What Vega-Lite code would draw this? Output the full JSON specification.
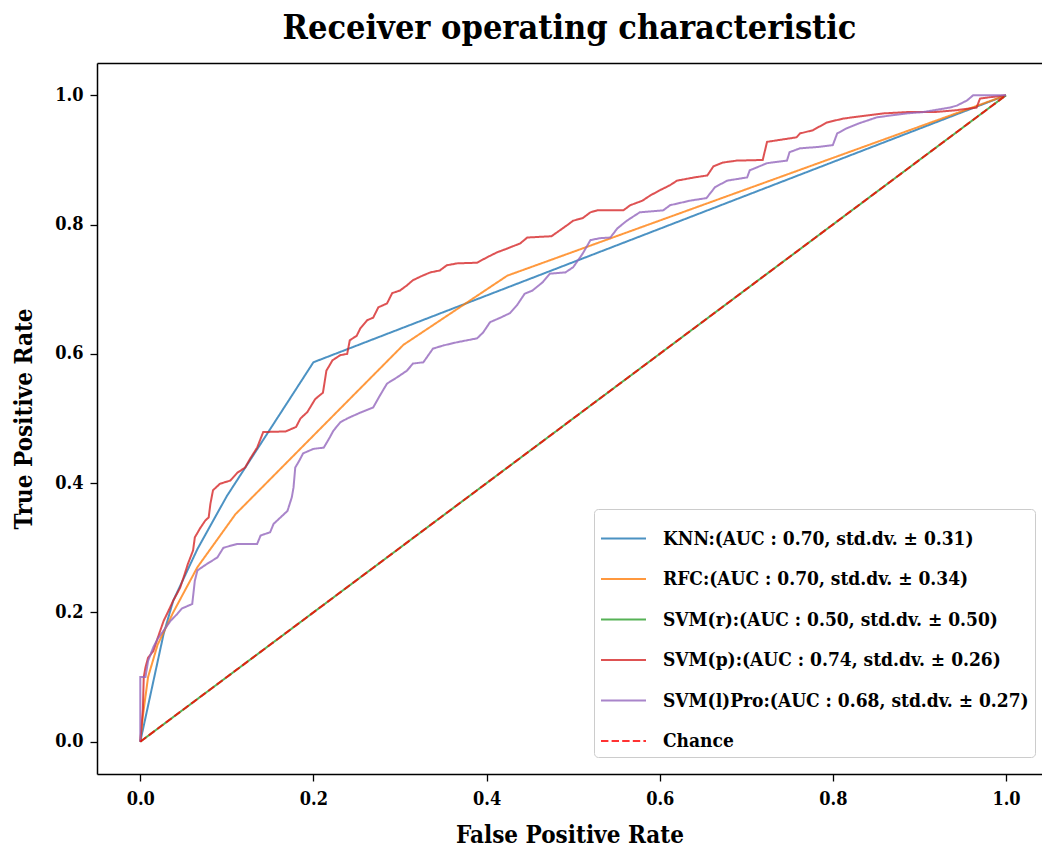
{
  "$schema": "https://vega.github.io/schema/vega-lite/v6.json",
  "width": 945,
  "height": 711,
  "autosize": {"type": "none"},
  "padding": {"left": 97, "top": 63, "right": 0, "bottom": 78},
  "background": "white",
  "config": {
    "view": {"stroke": null},
    "font": "DejaVu Serif Condensed"
  },
  "title": {
    "text": "Receiver operating characteristic",
    "font": "DejaVu Serif Condensed",
    "fontSize": 34,
    "fontWeight": "bold",
    "color": "black",
    "anchor": "middle",
    "offset": 17
  },
  "data": {
    "values": [
      {"model": "KNN", "step": 0, "fpr": 0, "tpr": 0},
      {"model": "KNN", "step": 1, "fpr": 0.027, "tpr": 0.167},
      {"model": "KNN", "step": 2, "fpr": 0.038, "tpr": 0.218},
      {"model": "KNN", "step": 3, "fpr": 0.066, "tpr": 0.298},
      {"model": "KNN", "step": 4, "fpr": 0.1, "tpr": 0.38},
      {"model": "KNN", "step": 5, "fpr": 0.2, "tpr": 0.587},
      {"model": "KNN", "step": 6, "fpr": 1, "tpr": 1},

      {"model": "RFC", "step": 0, "fpr": 0, "tpr": 0},
      {"model": "RFC", "step": 1, "fpr": 0.003, "tpr": 0.04},
      {"model": "RFC", "step": 2, "fpr": 0.009, "tpr": 0.1},
      {"model": "RFC", "step": 3, "fpr": 0.02, "tpr": 0.15},
      {"model": "RFC", "step": 4, "fpr": 0.038, "tpr": 0.2},
      {"model": "RFC", "step": 5, "fpr": 0.066, "tpr": 0.27},
      {"model": "RFC", "step": 6, "fpr": 0.11, "tpr": 0.352},
      {"model": "RFC", "step": 7, "fpr": 0.304, "tpr": 0.614},
      {"model": "RFC", "step": 8, "fpr": 0.424, "tpr": 0.721},
      {"model": "RFC", "step": 9, "fpr": 1, "tpr": 1},

      {"model": "SVM(r)", "step": 0, "fpr": 0, "tpr": 0},
      {"model": "SVM(r)", "step": 1, "fpr": 1, "tpr": 1},

      {"model": "SVM(p)", "step": 0, "fpr": 0, "tpr": 0},
      {"model": "SVM(p)", "step": 1, "fpr": 0.003, "tpr": 0.05},
      {"model": "SVM(p)", "step": 2, "fpr": 0.004, "tpr": 0.1},
      {"model": "SVM(p)", "step": 3, "fpr": 0.006, "tpr": 0.115},
      {"model": "SVM(p)", "step": 4, "fpr": 0.009, "tpr": 0.13},
      {"model": "SVM(p)", "step": 5, "fpr": 0.015, "tpr": 0.14},
      {"model": "SVM(p)", "step": 6, "fpr": 0.02, "tpr": 0.16},
      {"model": "SVM(p)", "step": 7, "fpr": 0.027, "tpr": 0.187},
      {"model": "SVM(p)", "step": 8, "fpr": 0.031, "tpr": 0.198},
      {"model": "SVM(p)", "step": 9, "fpr": 0.038, "tpr": 0.218},
      {"model": "SVM(p)", "step": 10, "fpr": 0.046, "tpr": 0.238},
      {"model": "SVM(p)", "step": 11, "fpr": 0.05, "tpr": 0.254},
      {"model": "SVM(p)", "step": 12, "fpr": 0.055, "tpr": 0.275},
      {"model": "SVM(p)", "step": 13, "fpr": 0.061, "tpr": 0.296},
      {"model": "SVM(p)", "step": 14, "fpr": 0.063, "tpr": 0.316},
      {"model": "SVM(p)", "step": 15, "fpr": 0.069, "tpr": 0.33},
      {"model": "SVM(p)", "step": 16, "fpr": 0.075, "tpr": 0.342},
      {"model": "SVM(p)", "step": 17, "fpr": 0.079, "tpr": 0.347},
      {"model": "SVM(p)", "step": 18, "fpr": 0.081, "tpr": 0.368},
      {"model": "SVM(p)", "step": 19, "fpr": 0.084, "tpr": 0.389},
      {"model": "SVM(p)", "step": 20, "fpr": 0.092, "tpr": 0.399},
      {"model": "SVM(p)", "step": 21, "fpr": 0.104, "tpr": 0.404},
      {"model": "SVM(p)", "step": 22, "fpr": 0.112, "tpr": 0.416},
      {"model": "SVM(p)", "step": 23, "fpr": 0.121, "tpr": 0.424},
      {"model": "SVM(p)", "step": 24, "fpr": 0.127, "tpr": 0.438},
      {"model": "SVM(p)", "step": 25, "fpr": 0.135, "tpr": 0.455},
      {"model": "SVM(p)", "step": 26, "fpr": 0.142, "tpr": 0.479},
      {"model": "SVM(p)", "step": 27, "fpr": 0.168, "tpr": 0.48},
      {"model": "SVM(p)", "step": 28, "fpr": 0.18, "tpr": 0.487},
      {"model": "SVM(p)", "step": 29, "fpr": 0.185, "tpr": 0.5},
      {"model": "SVM(p)", "step": 30, "fpr": 0.193, "tpr": 0.51},
      {"model": "SVM(p)", "step": 31, "fpr": 0.202, "tpr": 0.53},
      {"model": "SVM(p)", "step": 32, "fpr": 0.211, "tpr": 0.54},
      {"model": "SVM(p)", "step": 33, "fpr": 0.215, "tpr": 0.574},
      {"model": "SVM(p)", "step": 34, "fpr": 0.222, "tpr": 0.59},
      {"model": "SVM(p)", "step": 35, "fpr": 0.231, "tpr": 0.598},
      {"model": "SVM(p)", "step": 36, "fpr": 0.239, "tpr": 0.6},
      {"model": "SVM(p)", "step": 37, "fpr": 0.242, "tpr": 0.621},
      {"model": "SVM(p)", "step": 38, "fpr": 0.25, "tpr": 0.628},
      {"model": "SVM(p)", "step": 39, "fpr": 0.254, "tpr": 0.639},
      {"model": "SVM(p)", "step": 40, "fpr": 0.262, "tpr": 0.652},
      {"model": "SVM(p)", "step": 41, "fpr": 0.269, "tpr": 0.656},
      {"model": "SVM(p)", "step": 42, "fpr": 0.275, "tpr": 0.672},
      {"model": "SVM(p)", "step": 43, "fpr": 0.285, "tpr": 0.678},
      {"model": "SVM(p)", "step": 44, "fpr": 0.291, "tpr": 0.694},
      {"model": "SVM(p)", "step": 45, "fpr": 0.3, "tpr": 0.698},
      {"model": "SVM(p)", "step": 46, "fpr": 0.308, "tpr": 0.706},
      {"model": "SVM(p)", "step": 47, "fpr": 0.315, "tpr": 0.714},
      {"model": "SVM(p)", "step": 48, "fpr": 0.326, "tpr": 0.721},
      {"model": "SVM(p)", "step": 49, "fpr": 0.335, "tpr": 0.726},
      {"model": "SVM(p)", "step": 50, "fpr": 0.346, "tpr": 0.729},
      {"model": "SVM(p)", "step": 51, "fpr": 0.354, "tpr": 0.737},
      {"model": "SVM(p)", "step": 52, "fpr": 0.366, "tpr": 0.74},
      {"model": "SVM(p)", "step": 53, "fpr": 0.389, "tpr": 0.741},
      {"model": "SVM(p)", "step": 54, "fpr": 0.4, "tpr": 0.749},
      {"model": "SVM(p)", "step": 55, "fpr": 0.412, "tpr": 0.757},
      {"model": "SVM(p)", "step": 56, "fpr": 0.424, "tpr": 0.763},
      {"model": "SVM(p)", "step": 57, "fpr": 0.439, "tpr": 0.771},
      {"model": "SVM(p)", "step": 58, "fpr": 0.447, "tpr": 0.78},
      {"model": "SVM(p)", "step": 59, "fpr": 0.475, "tpr": 0.782},
      {"model": "SVM(p)", "step": 60, "fpr": 0.493, "tpr": 0.799},
      {"model": "SVM(p)", "step": 61, "fpr": 0.5, "tpr": 0.806},
      {"model": "SVM(p)", "step": 62, "fpr": 0.511, "tpr": 0.81},
      {"model": "SVM(p)", "step": 63, "fpr": 0.52, "tpr": 0.819},
      {"model": "SVM(p)", "step": 64, "fpr": 0.528, "tpr": 0.822},
      {"model": "SVM(p)", "step": 65, "fpr": 0.558, "tpr": 0.822},
      {"model": "SVM(p)", "step": 66, "fpr": 0.566, "tpr": 0.83},
      {"model": "SVM(p)", "step": 67, "fpr": 0.58, "tpr": 0.837},
      {"model": "SVM(p)", "step": 68, "fpr": 0.589, "tpr": 0.845},
      {"model": "SVM(p)", "step": 69, "fpr": 0.6, "tpr": 0.853},
      {"model": "SVM(p)", "step": 70, "fpr": 0.612, "tpr": 0.861},
      {"model": "SVM(p)", "step": 71, "fpr": 0.62, "tpr": 0.868},
      {"model": "SVM(p)", "step": 72, "fpr": 0.64, "tpr": 0.873},
      {"model": "SVM(p)", "step": 73, "fpr": 0.655, "tpr": 0.876},
      {"model": "SVM(p)", "step": 74, "fpr": 0.662, "tpr": 0.89},
      {"model": "SVM(p)", "step": 75, "fpr": 0.673, "tpr": 0.896},
      {"model": "SVM(p)", "step": 76, "fpr": 0.689, "tpr": 0.899},
      {"model": "SVM(p)", "step": 77, "fpr": 0.719, "tpr": 0.9},
      {"model": "SVM(p)", "step": 78, "fpr": 0.724, "tpr": 0.928},
      {"model": "SVM(p)", "step": 79, "fpr": 0.758, "tpr": 0.935},
      {"model": "SVM(p)", "step": 80, "fpr": 0.762, "tpr": 0.941},
      {"model": "SVM(p)", "step": 81, "fpr": 0.777, "tpr": 0.946},
      {"model": "SVM(p)", "step": 82, "fpr": 0.793, "tpr": 0.958},
      {"model": "SVM(p)", "step": 83, "fpr": 0.812, "tpr": 0.964},
      {"model": "SVM(p)", "step": 84, "fpr": 0.823, "tpr": 0.966},
      {"model": "SVM(p)", "step": 85, "fpr": 0.858, "tpr": 0.972},
      {"model": "SVM(p)", "step": 86, "fpr": 0.885, "tpr": 0.974},
      {"model": "SVM(p)", "step": 87, "fpr": 0.916, "tpr": 0.974},
      {"model": "SVM(p)", "step": 88, "fpr": 0.943, "tpr": 0.977},
      {"model": "SVM(p)", "step": 89, "fpr": 0.966, "tpr": 0.981},
      {"model": "SVM(p)", "step": 90, "fpr": 0.97, "tpr": 0.995},
      {"model": "SVM(p)", "step": 91, "fpr": 0.981, "tpr": 0.997},
      {"model": "SVM(p)", "step": 92, "fpr": 1, "tpr": 1},

      {"model": "SVM(l)Pro", "step": 0, "fpr": 0, "tpr": 0},
      {"model": "SVM(l)Pro", "step": 1, "fpr": 0, "tpr": 0.1},
      {"model": "SVM(l)Pro", "step": 2, "fpr": 0.006, "tpr": 0.1},
      {"model": "SVM(l)Pro", "step": 3, "fpr": 0.009, "tpr": 0.125},
      {"model": "SVM(l)Pro", "step": 4, "fpr": 0.015, "tpr": 0.146},
      {"model": "SVM(l)Pro", "step": 5, "fpr": 0.02, "tpr": 0.159},
      {"model": "SVM(l)Pro", "step": 6, "fpr": 0.027, "tpr": 0.172},
      {"model": "SVM(l)Pro", "step": 7, "fpr": 0.035, "tpr": 0.187},
      {"model": "SVM(l)Pro", "step": 8, "fpr": 0.043, "tpr": 0.198},
      {"model": "SVM(l)Pro", "step": 9, "fpr": 0.048, "tpr": 0.206},
      {"model": "SVM(l)Pro", "step": 10, "fpr": 0.06, "tpr": 0.213},
      {"model": "SVM(l)Pro", "step": 11, "fpr": 0.063, "tpr": 0.249},
      {"model": "SVM(l)Pro", "step": 12, "fpr": 0.066, "tpr": 0.265},
      {"model": "SVM(l)Pro", "step": 13, "fpr": 0.077, "tpr": 0.275},
      {"model": "SVM(l)Pro", "step": 14, "fpr": 0.089, "tpr": 0.285},
      {"model": "SVM(l)Pro", "step": 15, "fpr": 0.096, "tpr": 0.3},
      {"model": "SVM(l)Pro", "step": 16, "fpr": 0.112, "tpr": 0.306},
      {"model": "SVM(l)Pro", "step": 17, "fpr": 0.135, "tpr": 0.306},
      {"model": "SVM(l)Pro", "step": 18, "fpr": 0.139, "tpr": 0.319},
      {"model": "SVM(l)Pro", "step": 19, "fpr": 0.15, "tpr": 0.324},
      {"model": "SVM(l)Pro", "step": 20, "fpr": 0.154, "tpr": 0.337},
      {"model": "SVM(l)Pro", "step": 21, "fpr": 0.162, "tpr": 0.347},
      {"model": "SVM(l)Pro", "step": 22, "fpr": 0.17, "tpr": 0.357},
      {"model": "SVM(l)Pro", "step": 23, "fpr": 0.175, "tpr": 0.378},
      {"model": "SVM(l)Pro", "step": 24, "fpr": 0.177, "tpr": 0.393},
      {"model": "SVM(l)Pro", "step": 25, "fpr": 0.179, "tpr": 0.424},
      {"model": "SVM(l)Pro", "step": 26, "fpr": 0.185, "tpr": 0.438},
      {"model": "SVM(l)Pro", "step": 27, "fpr": 0.188, "tpr": 0.446},
      {"model": "SVM(l)Pro", "step": 28, "fpr": 0.2, "tpr": 0.453},
      {"model": "SVM(l)Pro", "step": 29, "fpr": 0.212, "tpr": 0.455},
      {"model": "SVM(l)Pro", "step": 30, "fpr": 0.219, "tpr": 0.471},
      {"model": "SVM(l)Pro", "step": 31, "fpr": 0.223, "tpr": 0.481},
      {"model": "SVM(l)Pro", "step": 32, "fpr": 0.231, "tpr": 0.494},
      {"model": "SVM(l)Pro", "step": 33, "fpr": 0.239, "tpr": 0.5},
      {"model": "SVM(l)Pro", "step": 34, "fpr": 0.254, "tpr": 0.509},
      {"model": "SVM(l)Pro", "step": 35, "fpr": 0.269, "tpr": 0.517},
      {"model": "SVM(l)Pro", "step": 36, "fpr": 0.277, "tpr": 0.536},
      {"model": "SVM(l)Pro", "step": 37, "fpr": 0.285, "tpr": 0.554},
      {"model": "SVM(l)Pro", "step": 38, "fpr": 0.297, "tpr": 0.564},
      {"model": "SVM(l)Pro", "step": 39, "fpr": 0.308, "tpr": 0.574},
      {"model": "SVM(l)Pro", "step": 40, "fpr": 0.315, "tpr": 0.585},
      {"model": "SVM(l)Pro", "step": 41, "fpr": 0.327, "tpr": 0.587},
      {"model": "SVM(l)Pro", "step": 42, "fpr": 0.338, "tpr": 0.608},
      {"model": "SVM(l)Pro", "step": 43, "fpr": 0.35, "tpr": 0.613},
      {"model": "SVM(l)Pro", "step": 44, "fpr": 0.366, "tpr": 0.618},
      {"model": "SVM(l)Pro", "step": 45, "fpr": 0.389, "tpr": 0.624},
      {"model": "SVM(l)Pro", "step": 46, "fpr": 0.396, "tpr": 0.633},
      {"model": "SVM(l)Pro", "step": 47, "fpr": 0.404, "tpr": 0.649},
      {"model": "SVM(l)Pro", "step": 48, "fpr": 0.416, "tpr": 0.656},
      {"model": "SVM(l)Pro", "step": 49, "fpr": 0.427, "tpr": 0.663},
      {"model": "SVM(l)Pro", "step": 50, "fpr": 0.435, "tpr": 0.675},
      {"model": "SVM(l)Pro", "step": 51, "fpr": 0.444, "tpr": 0.693},
      {"model": "SVM(l)Pro", "step": 52, "fpr": 0.453, "tpr": 0.698},
      {"model": "SVM(l)Pro", "step": 53, "fpr": 0.465, "tpr": 0.711},
      {"model": "SVM(l)Pro", "step": 54, "fpr": 0.473, "tpr": 0.724},
      {"model": "SVM(l)Pro", "step": 55, "fpr": 0.491, "tpr": 0.726},
      {"model": "SVM(l)Pro", "step": 56, "fpr": 0.5, "tpr": 0.734},
      {"model": "SVM(l)Pro", "step": 57, "fpr": 0.511, "tpr": 0.755},
      {"model": "SVM(l)Pro", "step": 58, "fpr": 0.52, "tpr": 0.776},
      {"model": "SVM(l)Pro", "step": 59, "fpr": 0.531, "tpr": 0.779},
      {"model": "SVM(l)Pro", "step": 60, "fpr": 0.543, "tpr": 0.78},
      {"model": "SVM(l)Pro", "step": 61, "fpr": 0.551, "tpr": 0.794},
      {"model": "SVM(l)Pro", "step": 62, "fpr": 0.562, "tpr": 0.806},
      {"model": "SVM(l)Pro", "step": 63, "fpr": 0.577, "tpr": 0.819},
      {"model": "SVM(l)Pro", "step": 64, "fpr": 0.604, "tpr": 0.822},
      {"model": "SVM(l)Pro", "step": 65, "fpr": 0.612, "tpr": 0.83},
      {"model": "SVM(l)Pro", "step": 66, "fpr": 0.635, "tpr": 0.837},
      {"model": "SVM(l)Pro", "step": 67, "fpr": 0.654, "tpr": 0.841},
      {"model": "SVM(l)Pro", "step": 68, "fpr": 0.664, "tpr": 0.858},
      {"model": "SVM(l)Pro", "step": 69, "fpr": 0.678, "tpr": 0.868},
      {"model": "SVM(l)Pro", "step": 70, "fpr": 0.701, "tpr": 0.873},
      {"model": "SVM(l)Pro", "step": 71, "fpr": 0.704, "tpr": 0.884},
      {"model": "SVM(l)Pro", "step": 72, "fpr": 0.724, "tpr": 0.895},
      {"model": "SVM(l)Pro", "step": 73, "fpr": 0.747, "tpr": 0.899},
      {"model": "SVM(l)Pro", "step": 74, "fpr": 0.75, "tpr": 0.912},
      {"model": "SVM(l)Pro", "step": 75, "fpr": 0.762, "tpr": 0.918},
      {"model": "SVM(l)Pro", "step": 76, "fpr": 0.782, "tpr": 0.92},
      {"model": "SVM(l)Pro", "step": 77, "fpr": 0.8, "tpr": 0.923},
      {"model": "SVM(l)Pro", "step": 78, "fpr": 0.805, "tpr": 0.941},
      {"model": "SVM(l)Pro", "step": 79, "fpr": 0.816, "tpr": 0.949},
      {"model": "SVM(l)Pro", "step": 80, "fpr": 0.831, "tpr": 0.957},
      {"model": "SVM(l)Pro", "step": 81, "fpr": 0.851, "tpr": 0.966},
      {"model": "SVM(l)Pro", "step": 82, "fpr": 0.885, "tpr": 0.972},
      {"model": "SVM(l)Pro", "step": 83, "fpr": 0.904, "tpr": 0.974},
      {"model": "SVM(l)Pro", "step": 84, "fpr": 0.935, "tpr": 0.981},
      {"model": "SVM(l)Pro", "step": 85, "fpr": 0.943, "tpr": 0.984},
      {"model": "SVM(l)Pro", "step": 86, "fpr": 0.955, "tpr": 0.992},
      {"model": "SVM(l)Pro", "step": 87, "fpr": 0.962, "tpr": 1.0},
      {"model": "SVM(l)Pro", "step": 88, "fpr": 1, "tpr": 1},

      {"model": "Chance", "step": 0, "fpr": 0, "tpr": 0},
      {"model": "Chance", "step": 1, "fpr": 1, "tpr": 1}
    ]
  },
  "encoding": {
    "y": {
      "field": "tpr",
      "type": "quantitative",
      "scale": {"domain": [-0.05, 1.05], "nice": false, "zero": false},
      "axis": {
        "values": [0, 0.2, 0.4, 0.6, 0.8, 1.0],
        "format": ".1f",
        "grid": false,
        "title": "True Positive Rate",
        "titleFont": "DejaVu Serif Condensed",
        "titleFontSize": 24,
        "titleFontWeight": "bold",
        "titleColor": "black",
        "titlePadding": 18,
        "labelFont": "DejaVu Serif Condensed",
        "labelFontSize": 18,
        "labelFontWeight": "bold",
        "labelColor": "black",
        "labelPadding": 7,
        "tickColor": "black",
        "tickSize": 7,
        "tickWidth": 1.3,
        "domainColor": "black",
        "domainWidth": 1.5
      }
    },
    "color": {
      "field": "model",
      "type": "nominal",
      "scale": {
        "domain": ["KNN", "RFC", "SVM(r)", "SVM(p)", "SVM(l)Pro", "Chance"],
        "range": ["#1f77b4", "#ff7f0e", "#2ca02c", "#d62728", "#9467bd", "#ff0000"]
      },
      "legend": {
        "title": null,
        "orient": "none",
        "legendX": 497,
        "legendY": 446,
        "symbolType": "stroke",
        "symbolSize": 2025,
        "symbolStrokeWidth": 2,
        "symbolOpacity": 0.8,
        "labelFont": "DejaVu Serif Condensed",
        "labelFontSize": 19,
        "labelFontWeight": "bold",
        "labelColor": "black",
        "labelOffset": 16,
        "labelLimit": 600,
        "rowPadding": 6.5,
        "padding": 6,
        "strokeColor": "#cccccc",
        "fillColor": "rgba(255,255,255,0.85)",
        "cornerRadius": 4,
        "labelExpr": "{'KNN': 'KNN:(AUC : 0.70, std.dv. ± 0.31)', 'RFC': 'RFC:(AUC : 0.70, std.dv. ± 0.34)', 'SVM(r)': 'SVM(r):(AUC : 0.50, std.dv. ± 0.50)', 'SVM(p)': 'SVM(p):(AUC : 0.74, std.dv. ± 0.26)', 'SVM(l)Pro': 'SVM(l)Pro:(AUC : 0.68, std.dv. ± 0.27)', 'Chance': 'Chance'}[datum.label]"
      }
    },
    "strokeDash": {
      "field": "model",
      "type": "nominal",
      "scale": {
        "domain": ["KNN", "RFC", "SVM(r)", "SVM(p)", "SVM(l)Pro", "Chance"],
        "range": [[1, 0], [1, 0], [1, 0], [1, 0], [1, 0], [7.4, 3.2]]
      },
      "legend": {
        "title": null,
        "orient": "none",
        "legendX": 497,
        "legendY": 446,
        "symbolType": "stroke",
        "symbolSize": 2025,
        "symbolStrokeWidth": 2,
        "symbolOpacity": 0.8,
        "labelFont": "DejaVu Serif Condensed",
        "labelFontSize": 19,
        "labelFontWeight": "bold",
        "labelColor": "black",
        "labelOffset": 16,
        "labelLimit": 600,
        "rowPadding": 6.5,
        "padding": 6,
        "strokeColor": "#cccccc",
        "fillColor": "rgba(255,255,255,0.85)",
        "cornerRadius": 4,
        "labelExpr": "{'KNN': 'KNN:(AUC : 0.70, std.dv. ± 0.31)', 'RFC': 'RFC:(AUC : 0.70, std.dv. ± 0.34)', 'SVM(r)': 'SVM(r):(AUC : 0.50, std.dv. ± 0.50)', 'SVM(p)': 'SVM(p):(AUC : 0.74, std.dv. ± 0.26)', 'SVM(l)Pro': 'SVM(l)Pro:(AUC : 0.68, std.dv. ± 0.27)', 'Chance': 'Chance'}[datum.label]"
      }
    },
    "order": {"field": "step", "type": "quantitative"}
  },
  "layer": [
    {
      "transform": [{"filter": "datum.model !== 'Chance'"}],
      "mark": {"type": "line", "strokeWidth": 2, "opacity": 0.8},
      "encoding": {
        "x": {
          "field": "fpr",
          "type": "quantitative",
          "scale": {"domain": [-0.05, 1.0416], "nice": false, "zero": false},
          "axis": {
            "orient": "bottom",
            "values": [0, 0.2, 0.4, 0.6, 0.8, 1.0],
            "format": ".1f",
            "grid": false,
            "title": "False Positive Rate",
            "titleFont": "DejaVu Serif Condensed",
            "titleFontSize": 24,
            "titleFontWeight": "bold",
            "titleColor": "black",
            "titlePadding": 15,
            "labelFont": "DejaVu Serif Condensed",
            "labelFontSize": 18,
            "labelFontWeight": "bold",
            "labelColor": "black",
            "labelPadding": 9,
            "tickColor": "black",
            "tickSize": 7,
            "tickWidth": 1.3,
            "domainColor": "black",
            "domainWidth": 1.5
          }
        }
      }
    },
    {
      "transform": [{"filter": "datum.model === 'Chance'"}],
      "mark": {"type": "line", "strokeWidth": 2, "opacity": 0.8},
      "encoding": {
        "x": {
          "field": "fpr",
          "type": "quantitative",
          "scale": {"domain": [-0.05, 1.0416], "nice": false, "zero": false},
          "axis": {
            "orient": "top",
            "labels": false,
            "ticks": false,
            "grid": false,
            "title": null,
            "domainColor": "black",
            "domainWidth": 1.5
          }
        }
      }
    }
  ],
  "resolve": {"axis": {"x": "independent"}}
}
